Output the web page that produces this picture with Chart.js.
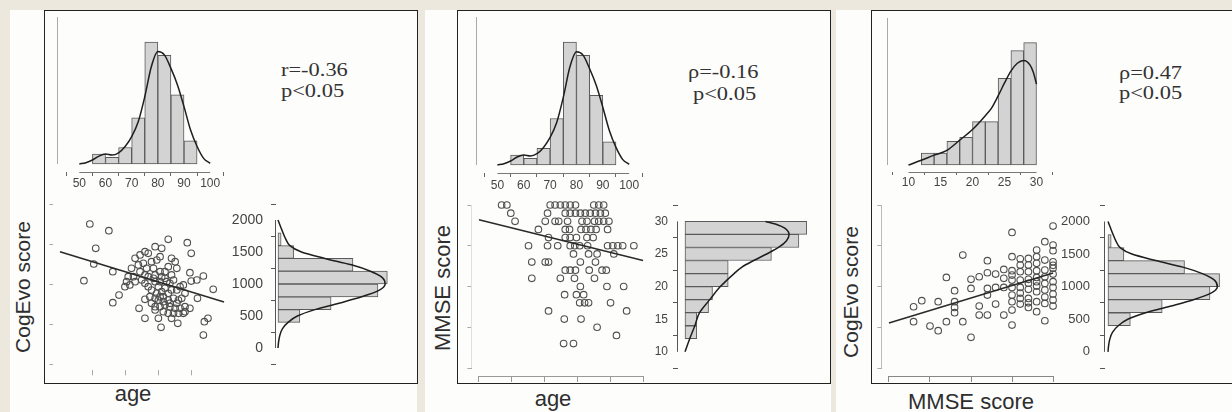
<!DOCTYPE html>
<html><head><meta charset="utf-8">
<script src="https://cdn.jsdelivr.net/npm/chart.js@4.4.1/dist/chart.umd.min.js"></script>
<style>
html,body{margin:0;padding:0;background:#ece8de;}
#stage{position:relative;width:1232px;height:412px;overflow:hidden;background:#ece8de;}
.pane{position:absolute;background:#fdfdfc;}
.box{position:absolute;border:1.5px solid #222;box-sizing:border-box;}
.lbl{position:absolute;font-family:'Liberation Sans',Arial,sans-serif;color:#2e2e2e;white-space:nowrap;}
.ann{position:absolute;font-family:'Liberation Serif','Times New Roman',serif;font-size:19px;line-height:19px;color:#333;white-space:nowrap;transform:scaleX(1.18);transform-origin:0 0;}
canvas{position:absolute;left:0;top:0;}
</style></head>
<body><div id="stage">
<div class="pane" style="left:10px;top:10px;width:407px;height:402px"></div>
<div class="pane" style="left:425px;top:10px;width:406px;height:402px"></div>
<div class="pane" style="left:836px;top:10px;width:396px;height:402px"></div>
<div class="box" style="left:44px;top:10px;width:374px;height:374px"></div>
<div class="box" style="left:457px;top:10px;width:374px;height:374px"></div>
<div class="box" style="left:871px;top:10px;width:400px;height:374px"></div>

<div class="lbl" style="left:22px;top:287px;font-size:21px;line-height:21px;transform:translate(-50%,-50%) rotate(-90deg)">CogEvo score</div>
<div class="lbl" style="left:133px;top:383px;font-size:22px;line-height:22px;transform:translateX(-50%)">age</div>
<div class="lbl" style="left:443px;top:288px;font-size:22px;line-height:22px;transform:translate(-50%,-50%) rotate(-90deg)">MMSE score</div>
<div class="lbl" style="left:553px;top:388px;font-size:22px;line-height:22px;transform:translateX(-50%)">age</div>
<div class="lbl" style="left:850px;top:292px;font-size:21px;line-height:21px;transform:translate(-50%,-50%) rotate(-90deg)">CogEvo score</div>
<div class="lbl" style="left:971px;top:391px;font-size:22px;line-height:22px;transform:translateX(-50%)">MMSE score</div>

<div class="ann" style="left:281px;top:60px">r=-0.36</div>
<div class="ann" style="left:281px;top:81px">p&lt;0.05</div>
<div class="ann" style="left:688px;top:62px">ρ=-0.16</div>
<div class="ann" style="left:693px;top:84px">p&lt;0.05</div>
<div class="ann" style="left:1119px;top:63px">ρ=0.47</div>
<div class="ann" style="left:1119px;top:83px">p&lt;0.05</div>
</div>
<script>
// ---------- data ----------
const ageTicks = [50, 60, 70, 80, 90, 100];
const ageBinCenters = [57.5, 62.5, 67.5, 72.5, 77.5, 82.5, 87.5, 92.5];
const ageCounts = [3, 2, 5, 14, 37, 33, 21, 7];
const ageDensX = [50, 52.5, 55, 57.5, 60, 62.5, 65, 67.5, 70, 72.5, 75, 77.5, 80, 82.5, 85, 87.5, 90, 92.5, 95, 97.5, 100];
const ageDensY = [0, 0.4, 1.2, 2.4, 3.0, 2.7, 3.4, 5.3, 8.3, 12.8, 20.4, 29.5, 34.1, 33.1, 29.0, 24.0, 17.4, 10.3, 5.3, 1.7, 0.2];

const mmseTicks = [10, 15, 20, 25, 30];
const mmseBinCenters = [13, 15, 17, 19, 21, 23, 25, 27, 29];
const mmseCounts = [3, 3, 6, 7, 11, 11, 22, 29, 31];
const mmseDensX = [10, 12, 14, 16, 18, 20, 22, 23, 24, 25, 26, 27, 28, 29, 29.5, 30];
const mmseDensY = [0, 1.2, 2.5, 3.7, 6.3, 9.0, 12.5, 14.5, 17.5, 20.8, 23.8, 25.8, 26.5, 25.3, 23.5, 20.5];

const cogTicks = [0, 500, 1000, 1500, 2000];
const cogBinCenters = [500, 700, 900, 1100, 1300, 1500, 1700];
const cogCounts = [7, 17, 32, 35, 24, 5, 1];
const cogDensX = [0, 100, 200, 300, 400, 500, 600, 700, 800, 900, 1000, 1100, 1200, 1300, 1400, 1500, 1600, 1700, 1800, 1900, 2000];
const cogDensY = [0, 0.2, 0.6, 1.4, 3.2, 6.2, 11.8, 19.5, 26.8, 32.3, 34.3, 33.4, 29.6, 23.5, 15.0, 7.5, 3.8, 2.5, 1.6, 0.8, 0];

// panel 1: age vs CogEvo
const p1Age = [59.1,64.9,60.9,60.3,57.3,66.1,68.0,66.1,74.1,75.9,80.8,80.0,83.0,88.8,90.0,93.7,94.0,95.1,96.7,93.7,91.7,85.9,91.9,89.6,90.0,
 72.9,74.4,75.9,76.9,79.0,81.0,73.9,75.4,76.4,77.9,79.5,80.5,78.5,75.9,74.4,76.9,79.0,80.5,82.0,83.0,84.0,85.1,85.6,84.0,84.6,83.5,82.0,80.5,79.0,
 71.8,70.8,70.3,71.3,72.9,69.8,75.9,76.9,77.9,80.0,81.0,82.0,83.0,84.0,85.6,86.6,87.6,88.1,87.1,86.1,84.6,83.0,81.5,80.0,79.0,77.4,75.9,77.9,79.0,
 80.5,82.0,83.5,85.1,86.6,88.1,89.6,87.6,86.1,84.6,83.0,81.5,79.0,84.0,88.1,72.4,74.9,78.5,81.0,82.5,79.5,80.5,81.5,85.6,83.5];
const p1Cog = [1750,1667,1446,1250,1041,1154,862,767,696,571,458,571,1558,1517,1383,362,529,571,933,1100,1050,508,821,1142,1037,
 1321,1363,1404,1383,1467,1446,1238,1258,1196,1279,1300,1342,1196,1113,1154,1092,1113,1154,1154,1217,1321,1279,1196,1113,1050,1008,1071,1029,1029,
 1196,1092,1029,988,1029,967,1008,967,925,967,904,946,883,925,925,967,988,883,821,800,821,800,779,800,821,842,808,758,717,
 717,738,717,696,696,717,696,633,633,633,633,654,675,571,654,1092,1050,1071,1092,1029,883,842,842,758,758];
const p1RegX = [50, 100];
const p1RegY = [1404, 775];

// panel 2: age vs MMSE
const p2Age = [56.9,58.5,71.7,73.2,74.8,76.3,77.8,79.4,85.0,86.5,88.0,
 59.7,70.9,76.3,77.8,79.4,80.9,82.4,83.9,85.5,87.0,88.5,
 61.0,70.2,73.2,74.3,77.0,81.4,82.9,85.2,86.5,88.0,89.6,
 68.1,76.3,77.6,81.1,82.6,84.1,85.7,89.2,
 71.2,76.3,77.8,79.7,82.9,84.8,
 65.1,70.9,74.0,77.8,79.2,80.7,83.1,89.2,90.8,92.3,93.8,97.2,
 78.8,83.4,86.0,91.1,
 66.1,70.2,71.2,80.9,85.5,
 76.3,77.8,79.4,83.6,87.5,88.8,
 66.1,74.8,79.1,85.2,
 80.9,89.0,94.1,
 76.1,79.7,81.9,
 80.7,82.2,83.4,90.1,
 71.2,95.0,
 76.0,81.1,
 86.0,
 91.9,
 75.8,78.8];
const p2Mmse = [30,30,30,30,30,30,30,30,30,30,30,
 29,29,29,29,29,29,29,29,29,29,29,
 28,28,28,28,28,28,28,28,28,28,28,
 27,27,27,27,27,27,27,27,
 26,26,26,26,26,26,
 25,25,25,25,25,25,25,25,25,25,25,25,
 24,24,24,24,
 23,23,23,23,23,
 22,22,22,22,22,22,
 21,21,21,21,
 20,20,20,
 19,19,19,
 18,18,18,18,
 17,17,
 16,16,
 15,
 14,
 13,13];
const p2RegX = [50, 100];
const p2RegY = [28.2, 23.2];

// panel 3: MMSE vs CogEvo
const p3Mmse = [13,14,13,15,16,16,17,17,18,18,18,18,19,19,20,20,20,21,21,21,22,22,22,22,22,23,23,23,24,24,24,
 25,25,25,25,25,25,25,25,25,26,26,26,26,26,26,27,27,27,27,27,27,27,28,28,28,28,28,28,28,28,28,
 29,29,29,29,29,29,29,30,30,30,30,30,30,30,30,30,30,30,
 25,26,27,28,29,29,30,26,27,24];
const p3Cog = [752,826,568,515,458,814,568,1112,814,949,744,679,1386,568,977,1088,376,1120,760,650,1317,1169,977,895,650,1153,989,785,1210,989,650,
 1664,1366,1194,1079,989,895,814,711,527,1263,1182,1079,989,854,785,1345,1263,1182,1088,965,854,744,1447,1366,1284,1194,1112,1006,936,814,691,
 1550,1325,1202,1038,957,793,580,1742,1509,1439,1304,1223,1153,1059,989,908,834,760,
 1140,1340,1040,1060,1120,870,1260,920,800,1100];
const p3RegX = [10, 30];
const p3RegY = [552, 1166];

// ---------- styling ----------
const BAR_FILL = '#d3d3d3', BAR_EDGE = '#5a5a5a', CURVE = '#1e1e1e', PT = '#505050', REG = '#2a2a2a';

Chart.defaults.font.family = "'Liberation Sans', Arial, sans-serif";
Chart.defaults.animation = false;
Chart.defaults.events = [];
Chart.defaults.plugins.legend.display = false;
Chart.defaults.plugins.tooltip.enabled = false;

// R-style axis lines spanning only the tick range
Chart.register({
  id: 'rAxis',
  afterDraw(chart, args, opts) {
    const ctx = chart.ctx, ca = chart.chartArea;
    (opts.lines || []).forEach(l => {
      const s = chart.scales[l.scale];
      const vals = l.range || [s.ticks[0].value, s.ticks[s.ticks.length - 1].value];
      const a = s.getPixelForValue(vals[0]), b = s.getPixelForValue(vals[1]);
      ctx.save();
      ctx.strokeStyle = l.color; ctx.lineWidth = 1;
      ctx.beginPath();
      if (s.isHorizontal()) { const y = Math.round(ca.bottom) + 0.5; ctx.moveTo(a, y); ctx.lineTo(b, y); }
      else { const x = Math.round(ca.left) - 0.5; ctx.moveTo(x, a); ctx.lineTo(x, b); }
      ctx.stroke(); ctx.restore();
    });
  }
});

const zip = (xs, ys) => xs.map((x, i) => ({x: x, y: ys[i]}));

function axis(o) {
  return {
    type: 'linear', min: o.min, max: o.max, display: o.display !== false,
    afterBuildTicks: s => { if (o.ticks) s.ticks = o.ticks.map(v => ({value: v})); },
    afterFit: s => {
      if (s.isHorizontal()) s.height = o.size || 0; else s.width = o.size || 0;
      s.paddingLeft = s.paddingRight = s.paddingTop = s.paddingBottom = 0;
    },
    grid: {display: !!o.ticks, drawOnChartArea: false, drawTicks: true, tickLength: o.tickLen || 4, tickColor: o.tickColor || '#555', tickWidth: 1},
    border: {display: false},
    ticks: {display: !!o.labels, padding: o.pad || 0, color: '#444', font: {size: o.font || 12},
            autoSkip: false, maxRotation: 0, minRotation: 0, callback: v => String(v)}
  };
}

const stage = document.getElementById('stage');
function mk(area, sizes, type, datasets, scales, extra) {
  const cv = document.createElement('canvas');
  cv.width = 1232; cv.height = 412;
  stage.appendChild(cv);
  return new Chart(cv, {
    type: type,
    data: {datasets: datasets},
    options: {
      responsive: false,
      indexAxis: extra.indexAxis || 'x',
      layout: {padding: {left: area[0] - (sizes.left || 0), top: area[1] - (sizes.top || 0),
                         right: 1232 - area[2] - (sizes.right || 0), bottom: 412 - area[3] - (sizes.bottom || 0)}},
      scales: scales,
      plugins: {rAxis: {lines: extra.lines || []}}
    }
  });
}

function topHist(area, centers, counts, dx, dy, xo, yo, lines) {
  return mk(area, {bottom: 22}, 'bar', [
    {type: 'line', data: zip(dx, dy), borderColor: CURVE, borderWidth: 1.5, pointRadius: 0, fill: false, cubicInterpolationMode: 'monotone'},
    {type: 'bar', data: zip(centers, counts), backgroundColor: BAR_FILL, borderColor: BAR_EDGE, borderWidth: 1,
     borderSkipped: false, barPercentage: 1, categoryPercentage: 1}
  ], {x: axis(Object.assign({size: 22, labels: true, tickColor: '#666'}, xo)), y: axis(Object.assign({display: false}, yo))},
  {lines: lines});
}

function sideHist(area, leftSize, centers, counts, dx, dy, xo, yo) {
  return mk(area, {left: leftSize}, 'bar', [
    {type: 'line', data: dy.map((v, i) => ({x: v, y: dx[i]})), borderColor: CURVE, borderWidth: 1.5, pointRadius: 0, fill: false, cubicInterpolationMode: 'monotone'},
    {type: 'bar', data: centers.map((c, i) => ({x: counts[i], y: c})), backgroundColor: BAR_FILL, borderColor: BAR_EDGE, borderWidth: 1,
     borderSkipped: false, barPercentage: 1, categoryPercentage: 1}
  ], {x: axis(Object.assign({display: false}, xo)), y: axis(Object.assign({size: leftSize, labels: true, tickColor: '#555'}, yo))},
  {indexAxis: 'y', lines: [{scale: 'y', color: '#555'}]});
}

function scatter(area, px, py, rx, ry, xo, yo, lines) {
  return mk(area, {left: 12, bottom: 12}, 'scatter', [
    {data: zip(rx, ry), showLine: true, borderColor: REG, borderWidth: 1.5, pointRadius: 0},
    {data: zip(px, py), showLine: false, pointRadius: 3.3, pointBorderWidth: 1.1, pointBorderColor: PT, pointBackgroundColor: 'rgba(255,255,255,0)'}
  ], {x: axis(Object.assign({size: 12}, xo)), y: axis(Object.assign({size: 12}, yo))}, {lines: lines});
}

// ---------- panel 1 ----------
topHist([58.2, 17, 224, 172], ageBinCenters, ageCounts, ageDensX, ageDensY,
  {min: 47.2, max: 100, ticks: ageTicks, tickLen: 4, pad: 0},
  {min: -2.43, max: 44.6},
  [{scale: 'x', color: '#777'}, {scale: 'y', range: [0, 44.6], color: '#aaa'}]);
scatter([53.4, 197.6, 230.6, 370.4], p1Age, p1Cog, p1RegX, p1RegY,
  {min: 48, max: 102, ticks: [60, 70, 80, 90], tickLen: 5, tickColor: '#aaa'},
  {min: -80, max: 2080, ticks: cogTicks, tickLen: 4, tickColor: '#aaa'}, []);
sideHist([276, 197.6, 412, 370.4], 45, cogBinCenters, cogCounts, cogDensX, cogDensY,
  {min: -0.64, max: 42.9},
  {min: -80, max: 2080, ticks: cogTicks, tickLen: 5, pad: 8, font: 14});

// ---------- panel 2 ----------
topHist([477, 17, 643, 173], ageBinCenters, ageCounts, ageDensX, ageDensY,
  {min: 47.5, max: 100, ticks: ageTicks, tickLen: 4, pad: 1},
  {min: -2.41, max: 44.58},
  [{scale: 'x', color: '#777'}, {scale: 'y', range: [0, 44.58], color: '#aaa'}]);
scatter([472.4, 198, 649.6, 376], p2Age, p2Mmse, p2RegX, p2RegY,
  {min: 48, max: 102, ticks: ageTicks, tickLen: 6, tickColor: '#999'},
  {min: 9.02, max: 30.86, ticks: mmseTicks, tickLen: 5, tickColor: '#aaa'},
  [{scale: 'x', color: '#999'}, {scale: 'y', color: '#e0e0e0'}]);
sideHist([678, 198, 826, 376], 45, mmseBinCenters, mmseCounts, mmseDensX, mmseDensY,
  {min: -1.78, max: 35.9},
  {min: 9.02, max: 30.86, ticks: mmseTicks, tickLen: 5, pad: 5, font: 12});

// ---------- panel 3 ----------
topHist([888, 18, 1053, 172], mmseBinCenters, mmseCounts, mmseDensX, mmseDensY,
  {min: 9.375, max: 30, ticks: mmseTicks, tickLen: 3, pad: 0},
  {min: -1.77, max: 37.26},
  [{scale: 'x', color: '#777'}, {scale: 'y', range: [0, 37.26], color: '#aaa'}]);
scatter([882.4, 198.5, 1059.6, 376], p3Mmse, p3Cog, p3RegX, p3RegY,
  {min: 9.2, max: 30.8, ticks: mmseTicks, tickLen: 6, tickColor: '#888'},
  {min: -98, max: 2080, ticks: cogTicks, tickLen: 5, tickColor: '#aaa'},
  [{scale: 'x', color: '#888'}, {scale: 'y', color: '#bbb'}]);
sideHist([1105, 198.5, 1232, 376], 50, cogBinCenters, cogCounts, cogDensX, cogDensY,
  {min: -0.94, max: 38.9},
  {min: -98, max: 2080, ticks: cogTicks, tickLen: 5, pad: 10, font: 13});
</script>
</body></html>
